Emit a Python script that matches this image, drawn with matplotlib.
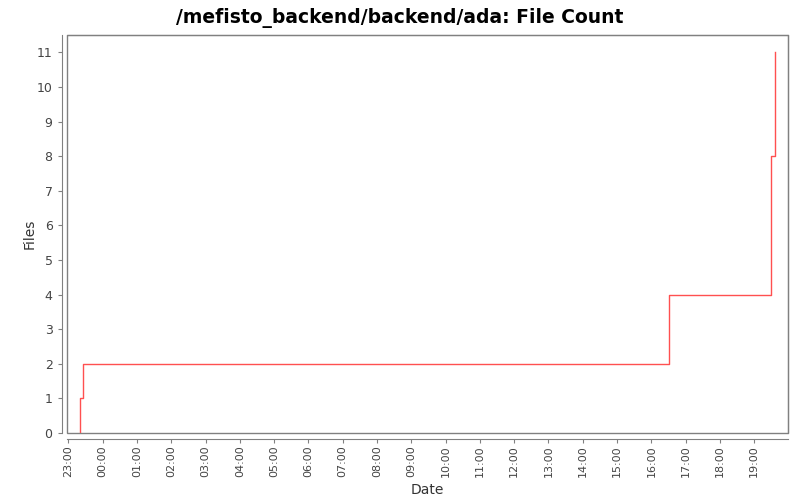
import datetime as dt
import matplotlib
matplotlib.use("Agg")
import matplotlib.pyplot as plt
import matplotlib.dates as mdates
from matplotlib.patches import Rectangle

# step series: time of change and file count
times = ["2020-01-01 23:21", "2020-01-01 23:21", "2020-01-01 23:25",
         "2020-01-02 16:30", "2020-01-02 19:30", "2020-01-02 19:36"]
files = [0, 1, 2, 4, 8, 11]

x_start = "2020-01-01 22:58"
x_end = "2020-01-02 19:59"
y_ticks = list(range(0, 12))

fmt = "%Y-%m-%d %H:%M"
t = [dt.datetime.strptime(s, fmt) for s in times]

fig = plt.figure(figsize=(8, 5), dpi=100)
ax = fig.add_axes([0.084, 0.134, 0.901, 0.796])

ax.plot(t, files, drawstyle="steps-post", color="#ff5050", linewidth=1)

ax.set_xlim(dt.datetime.strptime(x_start, fmt),
            dt.datetime.strptime(x_end, fmt))
ax.set_ylim(0, 11.5)
ax.set_yticks(y_ticks)

ax.xaxis.set_major_locator(mdates.HourLocator())
ax.xaxis.set_major_formatter(mdates.DateFormatter("%H:%M"))

# jfreechart-like look: offset axes and a thin box round the plot
for side in ["left", "bottom"]:
    ax.spines[side].set_position(("outward", 4))
    ax.spines[side].set_color("#808080")
for side in ["top", "right"]:
    ax.spines[side].set_color("#808080")
ax.add_patch(Rectangle((0, 0), 1, 1, transform=ax.transAxes, fill=False,
                       edgecolor="#808080", linewidth=1, clip_on=False))
ax.tick_params(colors="#808080", labelcolor="#444444", labelsize=9, length=3)
ax.tick_params(axis="x", labelrotation=90, pad=2, labelsize=8)

ax.set_xlabel("Date", fontsize=10, color="#333333")
ax.set_ylabel("Files", fontsize=10, color="#333333")
ax.xaxis.set_label_coords(0.5, -0.125)
ax.yaxis.set_label_coords(-0.042, 0.5)
fig.suptitle("/mefisto_backend/backend/ada: File Count", fontsize=13.5,
             fontweight="bold", y=0.985)

fig.savefig("out.png", dpi=100)
